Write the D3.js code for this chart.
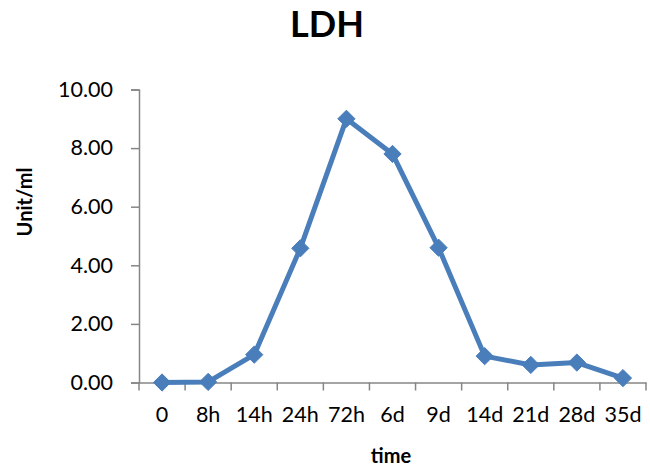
<!DOCTYPE html>
<html>
<head>
<meta charset="utf-8">
<script src="https://cdn.jsdelivr.net/npm/d3@7"></script>
<style>
  html, body { margin: 0; padding: 0; background: #fff; }
  svg { display: block; font-family: Lato, "Open Sans", sans-serif; }
</style>
</head>
<body>
<svg id="chart" width="650" height="472"></svg>
<script>
const categories = ["0", "8h", "14h", "24h", "72h", "6d", "9d", "14d", "21d", "28d", "35d"];
const values = [0.00, 0.02, 0.95, 4.58, 9.00, 7.80, 4.60, 0.90, 0.60, 0.68, 0.15];
const yTicks = [0, 2, 4, 6, 8, 10];
const title = "LDH";
const xTitle = "time";
const yTitle = "Unit/ml";

(function () {
const svg = d3.select("#chart");
const mLeft = 139, mRight = 646, mTop = 89.5, mBottom = 382.5;
const font = "Lato, 'Open Sans', sans-serif";

const x = d3.scaleBand().domain(categories).range([mLeft, mRight]);
const y = d3.scaleLinear().domain([0, 10]).range([mBottom, mTop]);
const axisColor = "#868686";
const blue = "#4a7ebb";

// Y axis
const yAxis = svg.append("g").attr("transform", `translate(${mLeft},0)`)
  .call(d3.axisLeft(y).tickValues(yTicks).tickFormat(d3.format(".2f")).tickSize(8).tickPadding(18));
yAxis.attr("font-family", font).attr("font-size", 21.5);
yAxis.select(".domain").attr("stroke", axisColor).attr("stroke-width", 1.5);
yAxis.selectAll(".tick line").attr("stroke", axisColor).attr("stroke-width", 1.5);
yAxis.selectAll(".tick text").attr("fill", "#000");

// X axis
const xAxis = svg.append("g").attr("transform", `translate(0,${mBottom})`)
  .call(d3.axisBottom(x).tickSize(0).tickPadding(24));
xAxis.attr("font-family", font).attr("font-size", 21.5);
xAxis.select(".domain").attr("stroke", axisColor).attr("stroke-width", 1.5);
xAxis.selectAll(".tick text").attr("fill", "#000");
const bounds = categories.map(c => x(c)).concat([mRight]);
xAxis.selectAll(".bt").data(bounds).enter().append("line")
  .attr("x1", d => d).attr("x2", d => d).attr("y1", 0).attr("y2", 8)
  .attr("stroke", axisColor).attr("stroke-width", 1.5);

// Line
const cx = c => x(c) + x.bandwidth() / 2;
const line = d3.line().x((d, i) => cx(categories[i])).y(d => y(d));
svg.append("path").datum(values).attr("d", line)
  .attr("fill", "none").attr("stroke", blue).attr("stroke-width", 5).attr("stroke-linejoin", "round");

// Markers
const sym = d3.symbol().type(d3.symbolDiamond2).size(190);
svg.selectAll(".pt").data(values).enter().append("path")
  .attr("d", sym)
  .attr("transform", (d, i) => `translate(${cx(categories[i])},${y(d)})`)
  .attr("fill", blue).attr("stroke", blue).attr("stroke-width", 1);

// Titles
svg.append("text").attr("x", 327).attr("y", 37).attr("text-anchor", "middle")
  .style("font-family", font).style("font-size", "36px").style("font-weight", "bold").text(title);
svg.append("text").attr("x", 391).attr("y", 463).attr("text-anchor", "middle")
  .style("font-family", font).style("font-size", "20px").style("font-weight", "bold").text(xTitle);
svg.append("text").attr("transform", "translate(32,202) rotate(-90)").attr("text-anchor", "middle")
  .style("font-family", font).style("font-size", "20px").style("font-weight", "bold").text(yTitle);
})();
</script>
</body>
</html>
